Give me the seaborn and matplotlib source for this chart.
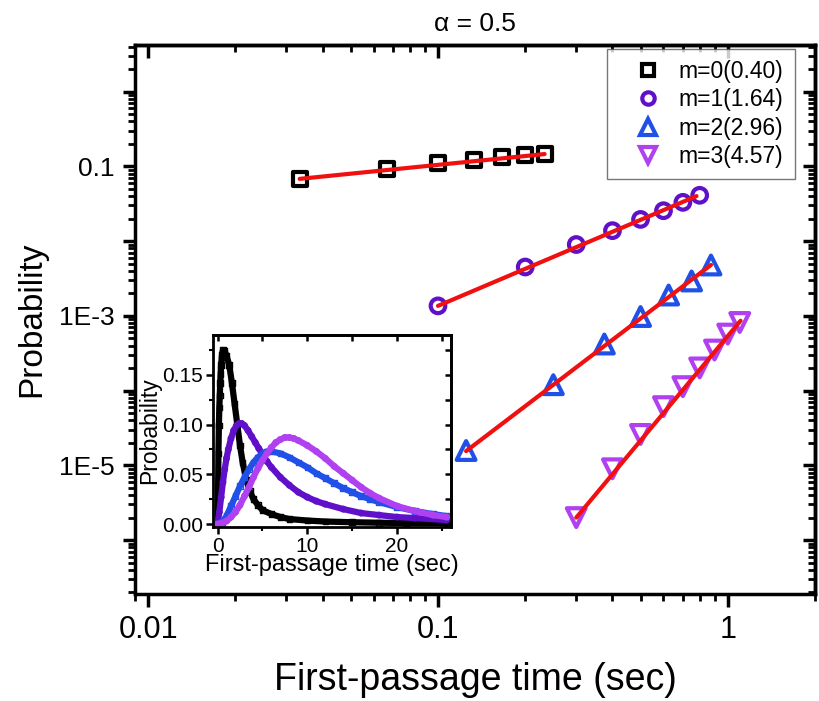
import numpy as np
import pandas as pd
import matplotlib
matplotlib.use("Agg")
import matplotlib.pyplot as plt
import seaborn as sns
from matplotlib.lines import Line2D
from matplotlib.ticker import LogLocator, NullFormatter, FixedLocator, MultipleLocator

# Hauptdaten (log-log): Erstpassagezeit vs. Wahrscheinlichkeit
t_m0 = [0.0333, 0.0667, 0.1, 0.1333, 0.1667, 0.2, 0.2333]
p_m0 = [0.0677, 0.093, 0.110, 0.1227, 0.133, 0.140, 0.1476]
t_m1 = [0.1, 0.2, 0.3, 0.4, 0.5, 0.6, 0.7, 0.8]
p_m1 = [1.36e-3, 4.5e-3, 9.0e-3, 1.38e-2, 1.95e-2, 2.55e-2, 3.3e-2, 4.1e-2]
t_m2 = [0.125, 0.25, 0.375, 0.5, 0.625, 0.75, 0.875]
p_m2 = [1.58e-5, 1.2e-4, 4.2e-4, 9.8e-4, 1.9e-3, 2.93e-3, 4.79e-3]
t_m3 = [0.3, 0.4, 0.5, 0.6, 0.7, 0.8, 0.9, 1.0, 1.1]
p_m3 = [2.0e-6, 9.0e-6, 2.59e-5, 6.1e-5, 1.13e-4, 2.01e-4, 3.49e-4, 5.7e-4, 8.15e-4]

fit_t = [[0.0333, 0.2333], [0.1, 0.78], [0.125, 0.875], [0.3, 1.107]]
fit_p = [[0.068, 0.146], [1.36e-3, 0.040], [1.55e-5, 4.8e-3], [2.0e-6, 8.6e-4]]

labels = ["m=0(0.40)", "m=1(1.64)", "m=2(2.96)", "m=3(4.57)"]
farben = ["#000000", "#6010C8", "#2050E8", "#B040F0"]
marker = ["s", "o", "^", "v"]
groesse = [10, 10.5, 13.5, 13.5]

# Inset: lineare Verteilungen
it_m0 = [0, 0.05, 0.1, 0.15, 0.2, 0.25, 0.3, 0.35, 0.4, 0.5, 0.6, 0.8, 1.0, 1.3, 1.6, 1.9, 2.2, 2.5,
         2.8, 3.2, 3.6, 4.0, 4.5, 5, 6, 7, 8, 10, 12, 15, 18, 21, 25.5]
ip_m0 = [0, 0.022, 0.071, 0.099, 0.117, 0.129, 0.142, 0.151, 0.160, 0.170, 0.175, 0.174, 0.169, 0.160,
         0.142, 0.121, 0.100, 0.079, 0.062, 0.044, 0.033, 0.025, 0.019, 0.014, 0.010, 0.007, 0.005,
         0.0035, 0.0025, 0.0018, 0.0013, 0.001, 0.0008]
it_m1 = [0, 0.2, 0.4, 0.6, 0.8, 1.0, 1.2, 1.5, 1.8, 2.1, 2.4, 2.7, 3.0, 3.4, 3.8, 4.2, 4.6, 5.0, 5.5,
         6, 7, 8, 9, 10, 11, 12, 14, 16, 18, 20, 22, 25.5]
ip_m1 = [0.0, 0.012, 0.027, 0.042, 0.055, 0.066, 0.075, 0.086, 0.094, 0.099, 0.101, 0.101, 0.099, 0.094,
         0.088, 0.082, 0.076, 0.070, 0.063, 0.057, 0.047, 0.039, 0.032, 0.027, 0.023, 0.020, 0.015,
         0.011, 0.009, 0.007, 0.006, 0.004]
it_m2 = [0, 0.5, 1, 1.5, 2, 2.5, 3, 3.5, 4, 4.5, 5, 5.5, 6, 7, 8, 9, 10, 11, 12, 13, 14, 15, 16, 17,
         18, 20, 22, 24, 25.5]
ip_m2 = [0, 0.002, 0.008, 0.018, 0.028, 0.038, 0.047, 0.055, 0.062, 0.067, 0.071, 0.073, 0.073, 0.071,
         0.067, 0.062, 0.057, 0.051, 0.046, 0.041, 0.036, 0.032, 0.028, 0.025, 0.022, 0.017, 0.013,
         0.010, 0.008]
it_m3 = [0, 0.5, 1, 1.5, 2, 2.5, 3, 3.5, 4, 4.5, 5, 5.5, 6, 6.5, 7, 7.5, 8, 8.5, 9, 10, 11, 12, 13,
         14, 15, 16, 17, 18, 20, 22, 24, 25.5]
ip_m3 = [0, 0.001, 0.003, 0.007, 0.012, 0.019, 0.028, 0.037, 0.047, 0.056, 0.064, 0.071, 0.077, 0.082,
         0.085, 0.087, 0.087, 0.086, 0.084, 0.079, 0.073, 0.066, 0.058, 0.051, 0.044, 0.037, 0.031,
         0.026, 0.018, 0.013, 0.009, 0.007]

haupt = [(t_m0, p_m0), (t_m1, p_m1), (t_m2, p_m2), (t_m3, p_m3)]
inset = [(it_m0, ip_m0), (it_m1, ip_m1), (it_m2, ip_m2), (it_m3, ip_m3)]

sns.set_style("ticks")
plt.rcParams["font.family"] = ["Liberation Sans", "DejaVu Sans"]
plt.rcParams["axes.edgecolor"] = "black"
plt.rcParams["xtick.color"] = "black"
plt.rcParams["ytick.color"] = "black"
plt.rcParams["text.color"] = "black"
plt.rcParams["axes.labelcolor"] = "black"

fig = plt.figure(figsize=(8.2, 7.01), dpi=100)
ax = fig.add_axes([0.1646, 0.1526, 0.8293, 0.7832])

for i, (t, p) in enumerate(haupt):
    df = pd.DataFrame({"t": t, "p": p})
    sns.scatterplot(data=df, x="t", y="p", ax=ax, marker=marker[i], s=groesse[i] ** 2,
                    facecolors="none", edgecolor=farben[i], linewidth=3, zorder=3)
for i in range(4):
    df = pd.DataFrame({"t": fit_t[i], "p": fit_p[i]})
    sns.lineplot(data=df, x="t", y="p", ax=ax, color="#F01010", linewidth=3, zorder=4)

ax.set_xscale("log")
ax.set_yscale("log")
ax.set_xlim(0.009, 2)
ax.set_ylim(1.9e-7, 4.2)

dekaden_y = [1e-7, 1e-6, 1e-5, 1e-4, 1e-3, 1e-2, 1e-1, 1]
ax.xaxis.set_major_locator(FixedLocator([0.01, 0.1, 1]))
ax.set_xticklabels(["0.01", "0.1", "1"])
ax.xaxis.set_minor_locator(LogLocator(base=10, subs=np.arange(2, 10), numticks=100))
ax.xaxis.set_minor_formatter(NullFormatter())
ax.yaxis.set_major_locator(FixedLocator(dekaden_y))
ax.set_yticklabels(["", "", "1E-5", "", "1E-3", "", "0.1", ""])
ax.yaxis.set_minor_locator(LogLocator(base=10, subs=np.arange(2, 10), numticks=100))
ax.yaxis.set_minor_formatter(NullFormatter())

ax.tick_params(which="major", direction="out", length=9, width=2.5, top=False, right=False)
ax.tick_params(which="minor", direction="out", length=5, width=2, top=False, right=False)
ax.tick_params(axis="x", labelsize=22, pad=6)
ax.tick_params(axis="y", labelsize=19, pad=6)
for s in ax.spines.values():
    s.set_linewidth(2.5)
    s.set_visible(True)

# Obere und rechte Achse mit Ticks nach innen
oben = ax.secondary_xaxis("top")
oben.xaxis.set_major_locator(FixedLocator([0.01, 0.1, 1]))
oben.xaxis.set_minor_locator(LogLocator(base=10, subs=np.arange(2, 10), numticks=100))
oben.xaxis.set_major_formatter(NullFormatter())
oben.xaxis.set_minor_formatter(NullFormatter())
oben.tick_params(which="major", direction="in", length=9, width=2.5)
oben.tick_params(which="minor", direction="in", length=5, width=2)
oben.spines["top"].set_linewidth(2.5)
rechts = ax.secondary_yaxis("right")
rechts.yaxis.set_major_locator(FixedLocator(dekaden_y))
rechts.yaxis.set_minor_locator(LogLocator(base=10, subs=np.arange(2, 10), numticks=100))
rechts.yaxis.set_major_formatter(NullFormatter())
rechts.yaxis.set_minor_formatter(NullFormatter())
rechts.tick_params(which="major", direction="in", length=9, width=2.5)
rechts.tick_params(which="minor", direction="in", length=5, width=2)
rechts.spines["right"].set_linewidth(2.5)

ax.set_xlabel("First-passage time (sec)", fontsize=27, labelpad=12)
ax.set_ylabel("Probability", fontsize=24, labelpad=8)
ax.set_title("α = 0.5", fontsize=19, pad=10)

handles = [Line2D([], [], linestyle="none", marker=marker[i], markersize=groesse[i] * 0.85,
                  markerfacecolor="none", markeredgecolor=farben[i], markeredgewidth=3,
                  label=labels[i]) for i in range(4)]
leg = ax.legend(handles=handles, loc="upper right", bbox_to_anchor=(0.9695, 0.9301),
                bbox_transform=fig.transFigure, fontsize=16.5, frameon=True, fancybox=False,
                borderaxespad=0, handlelength=2.6, handletextpad=0.05, labelspacing=0.22,
                borderpad=0.5)
leg.get_frame().set_edgecolor("#555555")
leg.get_frame().set_linewidth(1)

# Inset
ins = fig.add_axes([0.2598, 0.2482, 0.2902, 0.2739])
ins.set_facecolor("white")
ins_marker = ["s", "o", "s", "o"]
for i, (t, p) in enumerate(inset):
    df = pd.DataFrame({"t": t, "p": p})
    sns.lineplot(data=df, x="t", y="p", ax=ins, color=farben[i], linewidth=4.5, zorder=2 + i * 0.1)
    sns.scatterplot(data=df, x="t", y="p", ax=ins, marker=ins_marker[i], s=16,
                    facecolors="none", edgecolor=farben[i], linewidth=1, zorder=2 + i * 0.1)
ins.set_xlim(-0.5, 26)
ins.set_ylim(-0.003, 0.19)
ins.xaxis.set_major_locator(FixedLocator([0, 10, 20]))
ins.xaxis.set_minor_locator(MultipleLocator(5))
ins.yaxis.set_major_locator(FixedLocator([0, 0.05, 0.10, 0.15]))
ins.set_yticklabels(["0.00", "0.05", "0.10", "0.15"])
ins.yaxis.set_minor_locator(MultipleLocator(0.025))
ins.tick_params(which="major", direction="out", length=5, width=1.8, labelsize=15, pad=2)
ins.tick_params(which="minor", direction="out", length=3, width=1.5)
for s in ins.spines.values():
    s.set_linewidth(2)
    s.set_visible(True)
ins_oben = ins.secondary_xaxis("top")
ins_oben.xaxis.set_major_locator(FixedLocator([0, 10, 20]))
ins_oben.xaxis.set_minor_locator(MultipleLocator(5))
ins_oben.xaxis.set_major_formatter(NullFormatter())
ins_oben.tick_params(which="both", direction="in", length=4, width=1.8)
ins_oben.spines["top"].set_linewidth(2)
ins_rechts = ins.secondary_yaxis("right")
ins_rechts.yaxis.set_major_locator(FixedLocator([0, 0.05, 0.10, 0.15]))
ins_rechts.yaxis.set_minor_locator(MultipleLocator(0.025))
ins_rechts.yaxis.set_major_formatter(NullFormatter())
ins_rechts.tick_params(which="both", direction="in", length=4, width=1.8)
ins_rechts.spines["right"].set_linewidth(2)
ins.set_xlabel("First-passage time (sec)", fontsize=17, labelpad=-1)
ins.set_ylabel("Probability", fontsize=16.5, labelpad=1)

fig.savefig("out.png", dpi=100)
